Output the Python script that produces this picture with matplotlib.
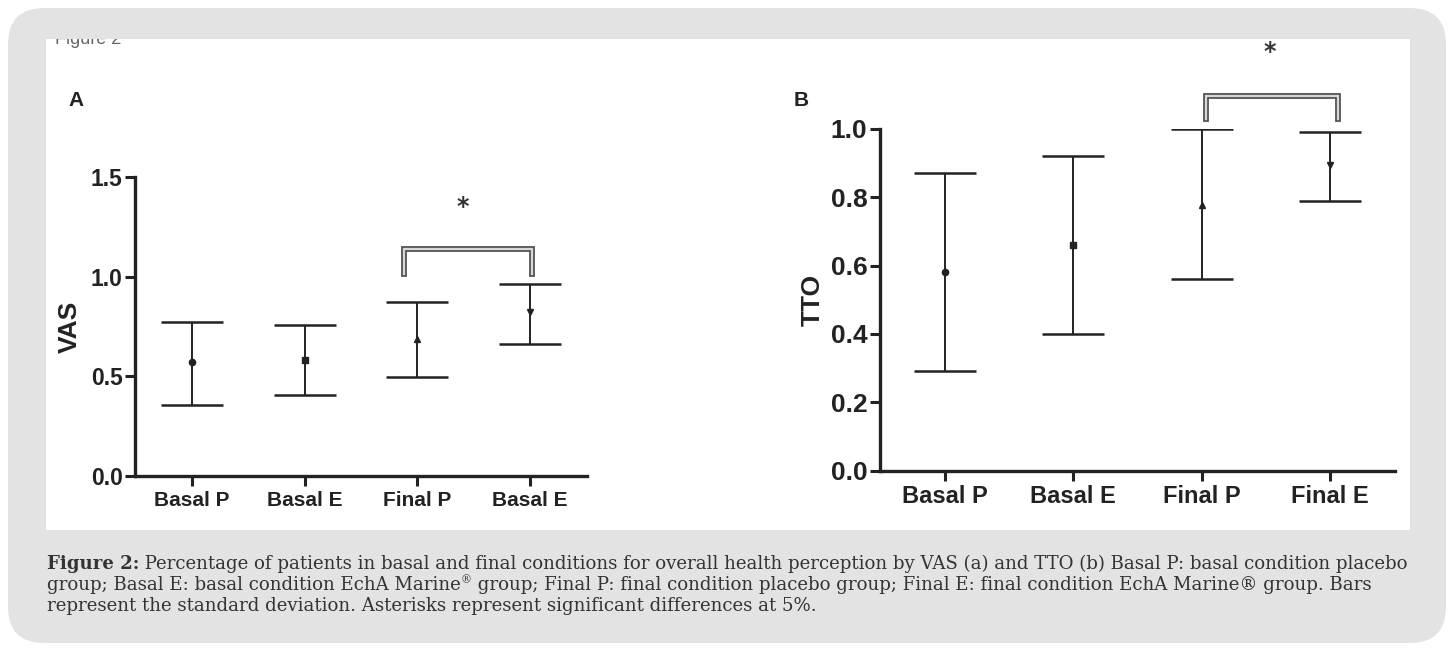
import matplotlib
matplotlib.use('Agg')
import numpy as np
import matplotlib.pyplot as plt
from matplotlib.patches import FancyBboxPatch, Rectangle

W, H = 1450, 650

# panel A (VAS)
cats_a = ['Basal P', 'Basal E', 'Final P', 'Basal E']
vas_mean = [0.57, 0.58, 0.685, 0.825]
vas_low = [0.355, 0.405, 0.495, 0.66]
vas_high = [0.775, 0.76, 0.875, 0.965]

# panel B (TTO)
cats_b = ['Basal P', 'Basal E', 'Final P', 'Final E']
tto_mean = [0.58, 0.66, 0.777, 0.895]
tto_low = [0.29, 0.40, 0.56, 0.79]
tto_high = [0.87, 0.92, 1.0, 0.99]

markers = ['o', 's', '^', 'v']

caption_bold = 'Figure 2:'
caption_l1 = (' Percentage of patients in basal and final conditions for overall health perception by VAS (a) '
              'and TTO (b) Basal P: basal condition placebo')
caption_l2a = 'group; Basal E: basal condition EchA Marine'
caption_l2b = ' group; Final P: final condition placebo group; Final E: final condition EchA Marine\u00ae group. Bars'
caption_l3 = 'represent the standard deviation. Asterisks represent significant differences at 5%.'


def px(x0, y0, x1, y1):
    # pixel box (top-left origin) -> figure fraction rect
    return [x0 / W, 1 - y1 / H, (x1 - x0) / W, (y1 - y0) / H]


def draw_panel(ax, cats, mean, low, high, yticks, ylabel, xsize, ysize):
    x = np.arange(len(cats))
    for i in range(len(cats)):
        err = [[mean[i] - low[i]], [high[i] - mean[i]]]
        ax.errorbar(x[i], mean[i], yerr=err, fmt=markers[i], color='#222222', ms=4.5,
                    elinewidth=1.4, capsize=22, capthick=1.8, zorder=3)
    ax.set_xticks(x)
    ax.set_xticklabels(cats)
    ax.set_yticks(yticks)
    ax.set_yticklabels(['%.1f' % t for t in yticks])
    ax.set_ylim(0, yticks[-1])
    ax.set_xlim(-0.506, 3.506)
    for s in ['top', 'right']:
        ax.spines[s].set_visible(False)
    for s in ['left', 'bottom']:
        ax.spines[s].set_linewidth(2.4)
        ax.spines[s].set_color('#222222')
    ax.tick_params(length=7, width=2.2, color='#222222', labelcolor='#222222')
    ax.tick_params(axis='y', pad=2)
    for lab in ax.get_xticklabels():
        lab.set_fontweight('bold')
        lab.set_fontsize(xsize)
        lab.set_family('Liberation Sans')
    for lab in ax.get_yticklabels():
        lab.set_fontweight('bold')
        lab.set_fontsize(ysize)
        lab.set_family('Liberation Sans')
    ax.set_ylabel(ylabel, fontsize=19, fontweight='bold', family='Liberation Sans', color='#222222')
    ax.patch.set_alpha(0)


def bracket(ax, x0, x1, ytop, ybot):
    xs = [x0, x0, x1, x1]
    ys = [ybot, ytop, ytop, ybot]
    ax.plot(xs, ys, color='#555555', lw=4.2, clip_on=False, solid_joinstyle='miter', zorder=4)
    ax.plot(xs, ys, color='#d8d8d8', lw=1.6, clip_on=False, solid_joinstyle='miter', zorder=5)


fig = plt.figure(figsize=(W / 100, H / 100), dpi=100)
fig.patch.set_facecolor('white')

bg = FancyBboxPatch((8 / W, 1 - 643 / H), 1438 / W, 635 / H,
                    boxstyle='round,pad=0,rounding_size=0.025', transform=fig.transFigure,
                    facecolor='#e3e3e3', edgecolor='none', zorder=-3, mutation_aspect=W / H)
fig.patches.append(bg)
panel = Rectangle((46 / W, 1 - 530 / H), 1364 / W, 491 / H, transform=fig.transFigure,
                  facecolor='white', edgecolor='none', zorder=-2)
fig.patches.append(panel)

# heading cut off by the top of the panel
fig.text(55 / W, 1 - 44 / H, 'Figure 2', fontsize=13, color='#666666',
         family='Liberation Sans', va='baseline', zorder=-1)
strip = Rectangle((40 / W, 1 - 39 / H), 300 / W, 22 / H, transform=fig.transFigure,
                  facecolor='#e3e3e3', edgecolor='none', zorder=-0.5)
fig.patches.append(strip)

axA = fig.add_axes(px(135, 177, 587, 476))
draw_panel(axA, cats_a, vas_mean, vas_low, vas_high, [0.0, 0.5, 1.0, 1.5], 'VAS', 15, 16.5)
axA.yaxis.labelpad = 6
bracket(axA, 1.88, 3.02, 1.14, 1.015)
axA.text(2.40, 1.35, '*', ha='center', va='center', fontsize=17, fontweight='bold', color='#333333')

axB = fig.add_axes(px(880, 129, 1395, 470.5))
draw_panel(axB, cats_b, tto_mean, tto_low, tto_high, [0.0, 0.2, 0.4, 0.6, 0.8, 1.0], 'TTO', 17, 19)
axB.yaxis.labelpad = 4
bracket(axB, 2.03, 3.06, 1.097, 1.03)
axB.text(2.53, 1.225, '*', ha='center', va='center', fontsize=17, fontweight='bold', color='#333333')

fig.text(68 / W, 1 - 100 / H, 'A', fontsize=15, fontweight='bold', color='#222222',
         family='Liberation Sans', va='center')
fig.text(794 / W, 1 - 100 / H, 'B', fontsize=15, fontweight='bold', color='#222222',
         family='Liberation Sans', va='center')

# caption
cfont = dict(family='DejaVu Serif', fontsize=13.1, color='#333333', va='baseline')
fig.canvas.draw()
r = fig.canvas.get_renderer()
x0 = 47 / W
b = fig.text(x0, 1 - 569 / H, caption_bold, fontweight='bold', **cfont)
wb = b.get_window_extent(r).width / W
fig.text(x0 + wb, 1 - 569 / H, caption_l1, **cfont)
t2 = fig.text(x0, 1 - 590 / H, caption_l2a, **cfont)
w2 = t2.get_window_extent(r).width / W
reg = fig.text(x0 + w2, 1 - 583 / H, '\u00ae', family='DejaVu Serif', fontsize=8, color='#333333', va='baseline')
wr = reg.get_window_extent(r).width / W
fig.text(x0 + w2 + wr, 1 - 590 / H, caption_l2b, **cfont)
fig.text(x0, 1 - 611 / H, caption_l3, **cfont)

fig.savefig('out.png', dpi=100)
